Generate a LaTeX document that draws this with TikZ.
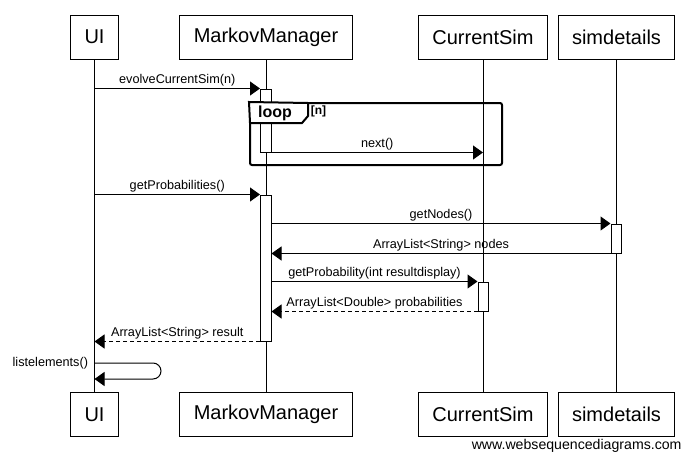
\documentclass[tikz,border=0pt]{standalone}
\usepackage{fontspec}
\setmainfont{Liberation Sans}
\usetikzlibrary{positioning,fit,arrows.meta}

\begin{document}
\begin{tikzpicture}[x=0.75pt,y=-0.75pt,
		  line width=0.75pt,
		  pbox/.style={draw,rectangle,minimum height=33pt,inner xsep=10.5pt,font=\fontsize{15}{18}\selectfont},
		  actbox/.style={draw,fill=white,inner sep=0pt},
		  msg/.style={-{Triangle[length=7.5pt,width=10.5pt]}},
		  reply/.style={msg,dash pattern=on 3pt off 2.25pt},
		  lbl/.style={font=\fontsize{9.5}{11}\selectfont,inner sep=1.5pt},
		  every fit/.style={inner sep=0pt}
		]
	\useasboundingbox[fill=white] (0,0) rectangle (690,461);

	% the participants and their lifelines
	\foreach \n/\t/\x in {ui/UI/94.5,mm/MarkovManager/266,cs/CurrentSim/483,sd/simdetails/616.5}
	{
	  \node[pbox] (\n) at (\x,37) {\t};
	  \node[pbox] (\n bot) at (\x,414.5) {\t};
	  \draw (\n) -- (\n bot);
	}

	% the activations
	\node[actbox,fit={(260.5,89) (271,152)}] (mmact1) {};
	\node[actbox,fit={(260.5,195) (271,341)}] (mmact2) {};
	\node[actbox,fit={(611,224) (621.5,253)}] (sdact) {};
	\node[actbox,fit={(478,282) (488.5,311)}] (csact) {};

	% the loop frame
	\node[draw,line width=1.5pt,rounded corners=1.5pt,fit={(250,103) (502,165)}] (loop) {};
	\coordinate (tabtop) at (308,103);
	\coordinate (tabbot) at (250,123);
	\draw[line width=1.5pt,fill=white] (loop.north west) -- (tabtop) -- (308,116) -- (302,123) -- (tabbot) -- cycle;
	\node[font=\bfseries\fontsize{12}{14}\selectfont,inner sep=0pt] (looptxt) at (275,113) {loop};
	\node[font=\bfseries\fontsize{9}{11}\selectfont,inner sep=0pt] (loopcond) at (318.5,111) {[n]};

	% the messages
	\draw[msg] (ui |- mmact1.north west) -- node[lbl,above] (m1) {evolveCurrentSim(n)} (mmact1.north west);
	\draw[msg] (mmact1.south east) -- node[lbl,above] (m2) {next()} (cs |- mmact1.south east);
	\draw[msg] (ui |- mmact2.north west) -- node[lbl,above] (m3) {getProbabilities()} (mmact2.north west);
	\draw[msg] (mmact2.east |- sdact.north west) -- node[lbl,above] (m4) {getNodes()} (sdact.north west);
	\draw[msg] (sdact.south west) -- node[lbl,above] (m5) {ArrayList<String> nodes} (mmact2.east |- sdact.south west);
	\draw[msg] (mmact2.east |- csact.north west) -- node[lbl,above] (m6) {getProbability(int resultdisplay)} (csact.north west);
	\draw[reply] (csact.south west) -- node[lbl,above] (m7) {ArrayList<Double> probabilities} (mmact2.east |- csact.south west);
	\draw[reply] (mmact2.south west) -- node[lbl,above] (m8) {ArrayList<String> result} (ui |- mmact2.south west);

	% the self call
	\coordinate (selfa) at (ui |- 0,363);
	\coordinate (selfb) at (ui |- 0,379);
	\draw[msg,rounded corners=6pt] (selfa) -- (161,363) -- (161,379) -- (selfb);
	\node[lbl,left=3pt of selfa] (m9) {listelements()};

	\node[anchor=east,inner sep=0pt,font=\fontsize{10.6}{12}\selectfont] (wsd) at (682,446) {www.websequencediagrams.com};

\end{tikzpicture}
\end{document}
